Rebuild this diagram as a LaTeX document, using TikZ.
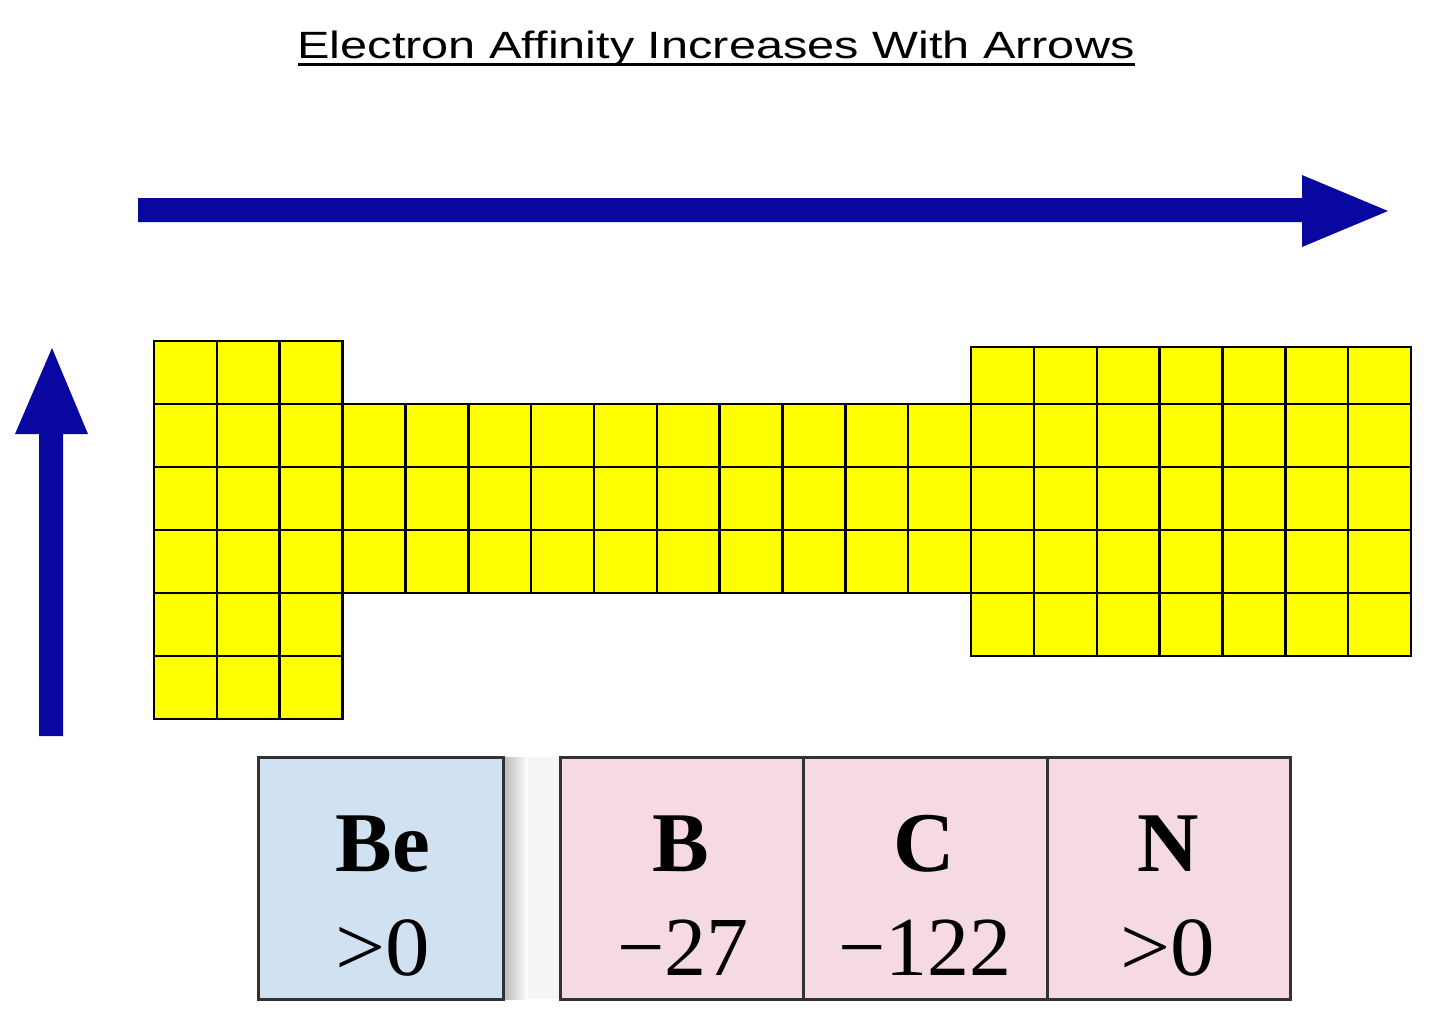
\documentclass[tikz,border=0pt]{standalone}
\usepackage{fontspec}
\usepackage{graphicx}
\setmainfont{Liberation Serif}
\newfontfamily\titlefont{Liberation Sans}
\definecolor{arrowblue}{RGB}{8,8,160}
\definecolor{cellyellow}{RGB}{255,255,0}
\definecolor{beblue}{RGB}{208,226,242}
\definecolor{bpink}{RGB}{245,218,228}
\definecolor{boxline}{RGB}{50,50,50}
\tikzset{
  cell/.style={fill=cellyellow, draw=black, line width=2.5pt},
  elbox/.style={draw=boxline, line width=3pt, minimum height=242pt, inner sep=0pt},
  symb/.style={anchor=base, font=\fontsize{85}{90}\selectfont\bfseries},
  val/.style={anchor=base, font=\fontsize{84}{90}\selectfont},
  blockarrow/.style={fill=arrowblue}
}
\begin{document}
\begin{tikzpicture}[x=1pt,y=-1pt]
\useasboundingbox (0,0) rectangle (1440,1031);
\fill[white] (0,0) rectangle (1440,1031);

% title
\node[anchor=base, font=\titlefont\fontsize{38}{40}\selectfont, inner sep=0pt] (title) at (716,58) {\scalebox{1.28}[1]{Electron Affinity Increases With Arrows}};
\draw[line width=3pt] (298,64) -- (1135,64);

% arrows
\fill[blockarrow] (138,198) -- (1302,198) -- (1302,175) -- (1388,211) -- (1302,247) -- (1302,222) -- (138,222) -- cycle;
\fill[blockarrow] (39,736) -- (39,434) -- (15,434) -- (52,348) -- (88,434) -- (63,434) -- (63,736) -- cycle;

% grid cells
\def\cw{62.85}
\foreach \c in {0,1,2} \foreach \r in {0,...,5}
  \draw[cell] ({154+\c*\cw},{341+\r*63}) rectangle ++(\cw,63);
\foreach \c in {3,...,12} \foreach \r in {1,2,3}
  \draw[cell] ({154+\c*\cw},{341+\r*63}) rectangle ++(\cw,63);
\foreach \c in {13,...,19} \foreach \r in {1,...,4}
  \draw[cell] ({154+\c*\cw},{341+\r*63}) rectangle ++(\cw,63);
\foreach \c in {13,...,19}
  \draw[cell] ({154+\c*\cw},347) rectangle ({154+(\c+1)*\cw},404);

% gap shading
\shade[left color=black!28, right color=white] (503,757) rectangle (528,999);
\fill[black!4] (528,757) rectangle (560,999);

% element boxes
\node[elbox, fill=beblue, minimum width=245pt] (be) at (380.5,878) {};
\node[elbox, fill=bpink, minimum width=243pt] (b) at (681.5,878) {};
\node[elbox, fill=bpink, minimum width=244pt] (c) at (925,878) {};
\node[elbox, fill=bpink, minimum width=243pt] (n) at (1168.5,878) {};

\node[symb] (besym) at (383,871) {Be};
\node[val] (beval) at (383,975) {\scalebox{1.06}[1]{>0}};
\node[symb] (bsym) at (681,871) {B};
\node[val] (bval) at (683,975) {−27};
\node[symb] (csym) at (924,871) {C};
\node[val] (cval) at (925,975) {−122};
\node[symb] (nsym) at (1168,871) {N};
\node[val] (nval) at (1168,975) {\scalebox{1.06}[1]{>0}};
\end{tikzpicture}
\end{document}
